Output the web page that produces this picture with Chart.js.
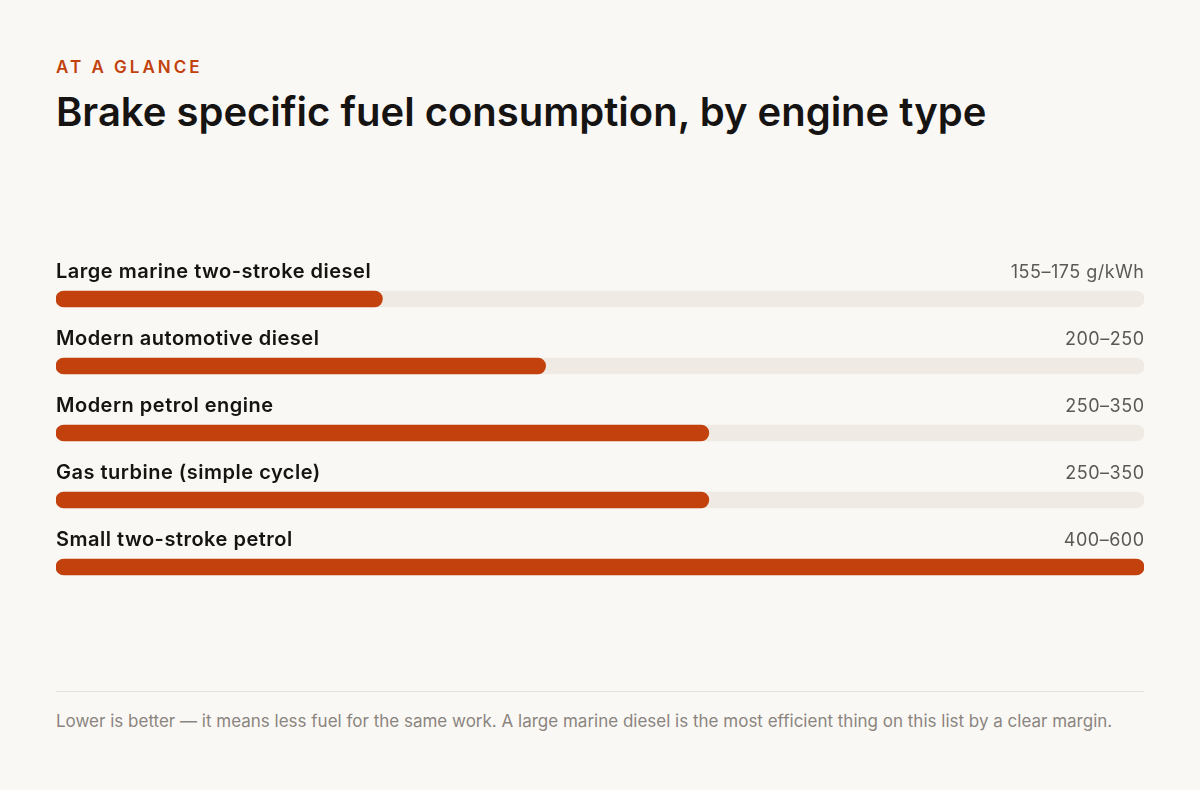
<!DOCTYPE html>
<html>
<head>
<meta charset="utf-8">
<script src="https://cdn.jsdelivr.net/npm/chart.js@4.4.1/dist/chart.umd.min.js"></script>
<style>
  html, body { margin: 0; padding: 0; }
  body {
    width: 1200px; height: 790px; position: relative; overflow: hidden;
    background: #faf8f4; font-family: Inter, "Noto Sans", sans-serif;
  }
  .kicker {
    position: absolute; left: 56px; top: 56px;
    font-size: 17px; font-weight: 600; letter-spacing: 3px;
    color: #c2410c; line-height: 22px;
  }
  .title {
    position: absolute; left: 56px; top: 86px;
    font-size: 40px; font-weight: 600; color: #161412;
    line-height: 52px; letter-spacing: 0;
  }
  .chart-wrap { position: absolute; left: 0; top: 230px; width: 1200px; height: 400px; }
  .rule { position: absolute; left: 56px; width: 1088px; top: 691px; height: 1px; background: #e4e0da; }
  .note {
    position: absolute; left: 56px; top: 710px;
    font-size: 17px; color: #8a8580; line-height: 22px;
  }
</style>
</head>
<body>
<div class="kicker">AT A GLANCE</div>
<div class="title">Brake specific fuel consumption, by engine type</div>
<div class="chart-wrap"><canvas id="bsfcChart"></canvas></div>
<div class="rule"></div>
<div class="note">Lower is better — it means less fuel for the same work. A large marine diesel is the most efficient thing on this list by a clear margin.</div>

<script>
// engine types, top to bottom
const engines = [
  "Large marine two-stroke diesel",
  "Modern automotive diesel",
  "Modern petrol engine",
  "Gas turbine (simple cycle)",
  "Small two-stroke petrol"
];
// BSFC ranges shown on the right
const ranges = ["155–175 g/kWh", "200–250", "250–350", "250–350", "400–600"];
// bar length, as share of the longest bar
const barShare = [30, 45, 60, 60, 100];
const SCALE_MAX = 100;
const trackValues = engines.map(() => SCALE_MAX);

// labels above each bar + range text at the right
const rowLabels = {
  id: "rowLabels",
  afterDatasetsDraw(chart) {
    const { ctx, chartArea, scales } = chart;
    ctx.save();
    ctx.textBaseline = "alphabetic";
    ctx.letterSpacing = "0.5px";
    engines.forEach((name, i) => {
      const y = scales.y.getPixelForValue(i);
      ctx.font = "600 20px Inter";
      ctx.fillStyle = "#161412";
      ctx.textAlign = "left";
      ctx.fillText(name, chartArea.left, y - 21);
      ctx.font = "400 18px Inter";
      ctx.fillStyle = "#5c5955";
      ctx.textAlign = "right";
      ctx.fillText(ranges[i], chartArea.right + 0.5, y - 21);
    });
    ctx.restore();
  }
};

const ctx = document.getElementById("bsfcChart").getContext("2d");
new Chart(ctx, {
  type: "bar",
  data: {
    labels: engines,
    datasets: [
      {
        label: "BSFC",
        data: barShare,
        backgroundColor: "#c2410c",
        barThickness: 16,
        borderRadius: 8,
        borderSkipped: false,
        grouped: false,
        order: 1
      },
      {
        label: "track",
        data: trackValues,
        backgroundColor: "#efeae3",
        barThickness: 16,
        borderRadius: 8,
        borderSkipped: false,
        grouped: false,
        order: 2
      }
    ]
  },
  options: {
    indexAxis: "y",
    responsive: true,
    maintainAspectRatio: false,
    animation: false,
    layout: { padding: { left: 56, right: 56, top: 35.5, bottom: 29.5 } },
    plugins: {
      legend: { display: false },
      tooltip: { enabled: false }
    },
    scales: {
      x: { display: false, min: 0, max: SCALE_MAX },
      y: { display: false }
    }
  },
  plugins: [rowLabels]
});
</script>
</body>
</html>
